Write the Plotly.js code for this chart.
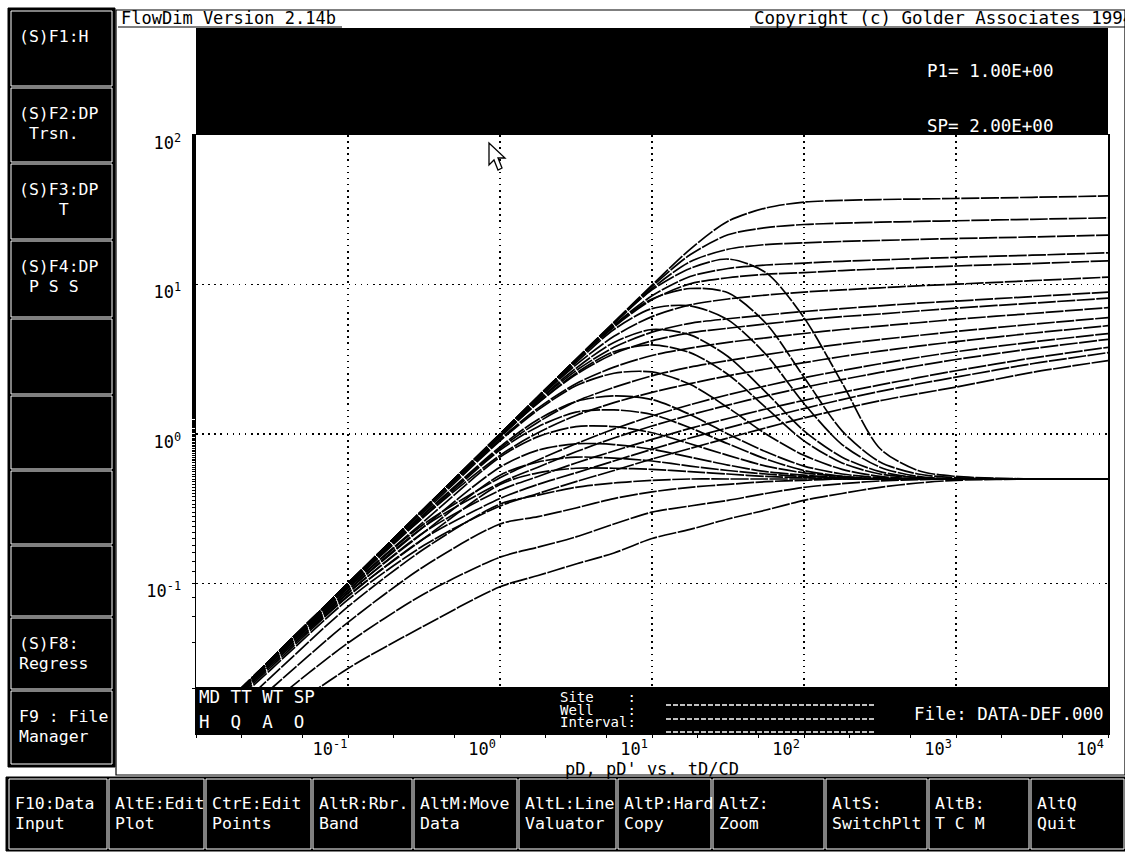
<!DOCTYPE html>
<html><head><meta charset="utf-8">
<script src="https://cdn.plot.ly/plotly-3.0.1.min.js"></script>
<style>html,body{margin:0;padding:0;background:#fff;overflow:hidden}#chart{width:1125px;height:852px}</style>
</head><body><div id="chart"></div>
<script>
// ---- data ----
const tdcd = [0.01, 0.0316, 0.1, 0.316, 1, 1.78, 3.16, 5.62, 10, 17.8, 31.6, 56.2, 100, 178, 316, 562, 1000, 3162, 10000];

// pD curves (upper family)
const pD_1  = [0.01, 0.0316, 0.1, 0.316, 1.0, 1.78, 3.16, 5.6, 9.9, 17.2, 26.5, 32.5, 35.6, 36.5, 37.0, 37.3, 37.6, 38.3, 39.1];
const pD_2  = [0.01, 0.0316, 0.1, 0.316, 1.0, 1.78, 3.15, 5.55, 9.7, 15.8, 21.5, 24.0, 25.2, 25.7, 26.1, 26.4, 26.7, 27.3, 27.9];
const pD_3  = [0.01, 0.0316, 0.1, 0.316, 1.0, 1.78, 3.14, 5.5, 9.4, 14.2, 17.2, 18.5, 19.0, 19.4, 19.7, 20.0, 20.3, 20.8, 21.4];
const pD_4  = [0.01, 0.0316, 0.1, 0.316, 0.99, 1.76, 3.12, 5.35, 8.4, 11.3, 12.8, 13.5, 13.9, 14.3, 14.6, 14.9, 15.2, 15.7, 16.3];
const pD_5  = [0.01, 0.0316, 0.1, 0.315, 0.99, 1.76, 3.1, 5.2, 7.9, 10.1, 11.1, 11.7, 12.0, 12.4, 12.7, 13.0, 13.3, 13.8, 14.4];
const pD_6  = [0.01, 0.0316, 0.1, 0.315, 0.99, 1.72, 2.9, 4.5, 6.1, 7.3, 8.0, 8.5, 8.9, 9.2, 9.5, 9.8, 10.05, 10.6, 11.2];
const pD_7  = [0.01, 0.0316, 0.1, 0.315, 0.97, 1.66, 2.65, 3.8, 4.8, 5.5, 5.9, 6.25, 6.6, 6.9, 7.2, 7.5, 7.75, 8.3, 8.9];
const pD_8  = [0.01, 0.0316, 0.1, 0.314, 0.96, 1.61, 2.5, 3.45, 4.2, 4.75, 5.1, 5.45, 5.8, 6.1, 6.35, 6.65, 6.95, 7.5, 8.1];
const pD_9  = [0.01, 0.0316, 0.1, 0.31, 0.92, 1.49, 2.17, 2.8, 3.35, 3.75, 4.1, 4.4, 4.7, 5.0, 5.27, 5.55, 5.85, 6.4, 7.0];
const pD_10 = [0.01, 0.0315, 0.098, 0.29, 0.8, 1.2, 1.65, 2.05, 2.45, 2.8, 3.1, 3.4, 3.7, 4.0, 4.28, 4.56, 4.85, 5.42, 6.0];
const pD_11 = [0.01, 0.031, 0.097, 0.28, 0.72, 1.02, 1.33, 1.62, 1.9, 2.17, 2.45, 2.72, 3.0, 3.3, 3.58, 3.87, 4.15, 4.72, 5.3];
const pD_12 = [0.01, 0.031, 0.093, 0.25, 0.51, 0.67, 0.86, 1.08, 1.32, 1.57, 1.83, 2.1, 2.38, 2.66, 2.95, 3.25, 3.55, 4.12, 4.7];
const pD_13 = [0.0098, 0.03, 0.09, 0.24, 0.47, 0.6, 0.76, 0.94, 1.13, 1.34, 1.56, 1.8, 2.05, 2.31, 2.58, 2.86, 3.15, 3.72, 4.3];
const pD_14 = [0.0096, 0.029, 0.086, 0.22, 0.42, 0.52, 0.64, 0.77, 0.92, 1.09, 1.27, 1.47, 1.68, 1.9, 2.13, 2.38, 2.65, 3.22, 3.8];
const pD_15 = [0.0094, 0.028, 0.082, 0.2, 0.37, 0.46, 0.55, 0.66, 0.79, 0.94, 1.1, 1.28, 1.48, 1.7, 1.93, 2.16, 2.4, 2.95, 3.5];
const pD_16 = [0.0092, 0.027, 0.078, 0.18, 0.33, 0.4, 0.48, 0.57, 0.68, 0.8, 0.94, 1.1, 1.28, 1.47, 1.67, 1.86, 2.06, 2.58, 3.1];

// derivative pD' curves
const dpD_1  = [0.01, 0.0316, 0.1, 0.316, 1.0, 1.78, 3.15, 5.5, 9.2, 12.8, 14.8, 12.0, 6.0, 2.2, 0.8, 0.57, 0.52, 0.5, 0.5];
const dpD_2  = [0.01, 0.0316, 0.1, 0.316, 1.0, 1.77, 3.1, 5.3, 8.0, 9.4, 8.8, 5.5, 2.4, 1.05, 0.65, 0.54, 0.51, 0.5, 0.5];
const dpD_3  = [0.01, 0.0316, 0.1, 0.315, 0.99, 1.75, 3.0, 5.0, 6.9, 7.2, 5.8, 3.4, 1.6, 0.85, 0.6, 0.52, 0.5, 0.5, 0.5];
const dpD_4  = [0.01, 0.0316, 0.1, 0.312, 0.97, 1.68, 2.75, 4.1, 5.0, 4.6, 3.3, 1.9, 1.05, 0.7, 0.56, 0.51, 0.5, 0.5, 0.5];
const dpD_5  = [0.01, 0.0316, 0.099, 0.31, 0.95, 1.62, 2.55, 3.55, 3.95, 3.5, 2.5, 1.5, 0.9, 0.64, 0.54, 0.51, 0.5, 0.5, 0.5];
const dpD_6  = [0.01, 0.0315, 0.098, 0.3, 0.9, 1.45, 2.1, 2.55, 2.6, 2.15, 1.5, 1.0, 0.72, 0.58, 0.52, 0.5, 0.5, 0.5, 0.5];
const dpD_7  = [0.01, 0.0314, 0.097, 0.29, 0.82, 1.25, 1.65, 1.8, 1.7, 1.35, 1.0, 0.76, 0.61, 0.54, 0.51, 0.5, 0.5, 0.5, 0.5];
const dpD_8  = [0.01, 0.0313, 0.096, 0.28, 0.78, 1.12, 1.4, 1.45, 1.35, 1.1, 0.86, 0.68, 0.57, 0.52, 0.5, 0.5, 0.5, 0.5, 0.5];
const dpD_9  = [0.0099, 0.031, 0.094, 0.26, 0.7, 0.96, 1.12, 1.12, 1.02, 0.86, 0.72, 0.61, 0.55, 0.52, 0.5, 0.5, 0.5, 0.5, 0.5];
const dpD_10 = [0.0098, 0.0305, 0.09, 0.24, 0.6, 0.78, 0.86, 0.85, 0.79, 0.7, 0.62, 0.56, 0.53, 0.51, 0.5, 0.5, 0.5, 0.5, 0.5];
const dpD_11 = [0.0097, 0.03, 0.087, 0.22, 0.53, 0.65, 0.7, 0.69, 0.66, 0.61, 0.57, 0.54, 0.52, 0.51, 0.5, 0.5, 0.5, 0.5, 0.5];
const dpD_12 = [0.0095, 0.029, 0.083, 0.2, 0.46, 0.55, 0.59, 0.59, 0.58, 0.56, 0.54, 0.52, 0.51, 0.5, 0.5, 0.5, 0.5, 0.5, 0.5];
const dpD_13 = [0.008, 0.024, 0.07, 0.17, 0.34, 0.39, 0.44, 0.47, 0.49, 0.5, 0.5, 0.5, 0.5, 0.5, 0.5, 0.5, 0.5, 0.5, 0.5];
const dpD_14 = [0.007, 0.02, 0.055, 0.13, 0.25, 0.28, 0.32, 0.37, 0.41, 0.44, 0.46, 0.48, 0.49, 0.5, 0.5, 0.5, 0.5, 0.5, 0.5];
const dpD_15 = [0.006, 0.016, 0.04, 0.085, 0.15, 0.175, 0.205, 0.25, 0.3, 0.33, 0.36, 0.4, 0.44, 0.465, 0.485, 0.495, 0.5, 0.5, 0.5];
const dpD_16 = [0.005, 0.012, 0.027, 0.052, 0.095, 0.113, 0.135, 0.16, 0.2, 0.23, 0.27, 0.31, 0.36, 0.4, 0.44, 0.47, 0.49, 0.5, 0.5];

const pDCurves  = [pD_1, pD_2, pD_3, pD_4, pD_5, pD_6, pD_7, pD_8, pD_9, pD_10, pD_11, pD_12, pD_13, pD_14, pD_15, pD_16];
const dpDCurves = [dpD_1, dpD_2, dpD_3, dpD_4, dpD_5, dpD_6, dpD_7, dpD_8, dpD_9, dpD_10, dpD_11, dpD_12, dpD_13, dpD_14, dpD_15, dpD_16];

// tick labels
const xTickVals = [0.1, 1, 10, 100, 1000, 10000];
const xTickText = ['10<sup>-1</sup>', '10<sup>0</sup>', '10<sup>1</sup>', '10<sup>2</sup>', '10<sup>3</sup>', '10<sup>4</sup>'];
const yTickVals = [0.1, 1, 10, 100];
const yTickText = ['10<sup>-1</sup>', '10<sup>0</sup>', '10<sup>1</sup>', '10<sup>2</sup>'];

// screen texts
const titleLeft  = 'FlowDim Version 2.14b';
const titleRight = 'Copyright (c) Golder Associates 1994';
const xTitle = "pD, pD' vs. tD/CD";
const sideKeys = [['(S)F1:H', ''], ['(S)F2:DP', ' Trsn.'], ['(S)F3:DP', '    T'], ['(S)F4:DP', ' P S S'], ['', ''], ['', ''], ['', ''], ['', ''], ['(S)F8:', 'Regress'], ['F9 : File', 'Manager']];
const bottomKeys = [['F10:Data', 'Input'], ['AltE:Edit', 'Plot'], ['CtrE:Edit', 'Points'], ['AltR:Rbr.', 'Band'], ['AltM:Move', 'Data'], ['AltL:Line', 'Valuator'], ['AltP:Hard', 'Copy'], ['AltZ:', 'Zoom'], ['AltS:', 'SwitchPlt'], ['AltB:', 'T C M'], ['AltQ', 'Quit']];
const paramText = ['P1= 1.00E+00', 'SP= 2.00E+00'];
const fileText = 'File: DATA-DEF.000';
const codeRow1 = 'MD TT WT SP';
const codeRow2 = 'H  Q  A  O';
const siteRows = ['Site    :', 'Well    :', 'Interval:'];

// ---- layout helpers (pixel -> paper) ----
const L = 196, R = 1108, T = 135, B = 733;
const W = R - L, H = B - T;
const X = p => (p - L) / W;
const Y = p => (B - p) / H;
const MONO = 'DejaVu Sans Mono, monospace';

const lineStyle = {color: '#000', width: 1.7, shape: 'spline', smoothing: 0.8, dash: '18px,1.5px'};
const traces = [];
pDCurves.forEach((c, i) => traces.push({x: tdcd, y: c, mode: 'lines', type: 'scatter', name: 'pD ' + (i + 1),
  line: lineStyle, hoverinfo: 'skip'}));
dpDCurves.forEach((c, i) => traces.push({x: tdcd, y: c, mode: 'lines', type: 'scatter', name: "pD' " + (i + 1),
  line: lineStyle, hoverinfo: 'skip'}));

const shapes = [];
const ann = [];
function rect(x0, y0, x1, y1, fill, lc, lw, layer) {
  shapes.push({type: 'rect', xref: 'paper', yref: 'paper', x0: X(x0), x1: X(x1), y0: Y(y0), y1: Y(y1),
    fillcolor: fill, line: {color: lc || fill, width: lw === undefined ? 0 : lw}, layer: layer || 'above'});
}
function hline(x0, x1, y, color, w, dash) {
  shapes.push({type: 'line', xref: 'paper', yref: 'paper', x0: X(x0), x1: X(x1), y0: Y(y), y1: Y(y),
    line: {color: color, width: w, dash: dash || 'solid'}, layer: 'above'});
}
function txt(x, y, s, color, size, anchor) {
  ann.push({xref: 'paper', yref: 'paper', x: X(x), y: Y(y), text: s, showarrow: false,
    xanchor: anchor || 'left', yanchor: 'middle', font: {family: MONO, size: size || 17, color: color}});
}

// window frame and title bar
rect(116, 10, 1125, 775, 'rgba(0,0,0,0)', '#000', 1.2, 'below');
txt(119, 18, titleLeft, '#000', 17);
txt(752, 18, titleRight, '#000', 17.5);
hline(118, 342, 27, '#000', 1.2);
hline(750, 1125, 27, '#000', 1.2);

// top and bottom black bands of the plot
rect(L, 28, R, 134, '#000');
rect(L, 687, R, 735, '#000');
txt(925, 71, paramText[0], '#fff', 17.5);
txt(925, 126, paramText[1], '#fff', 17.5);
txt(197, 697, codeRow1, '#fff', 17.5);
txt(197, 722, codeRow2, '#fff', 17.5);
siteRows.forEach((s, i) => txt(558, 697 + i * 12.5, s, '#fff', 14));
[705, 719, 732].forEach(y => hline(666, 875, y, '#fff', 1.5, '5px,2px'));
txt(912, 714, fileText, '#fff', 17.5);

// left function-key panel
const sideEdges = [10, 87, 163, 240, 318, 395, 470, 545, 617, 690, 765];
rect(8, 8, 115, 767, '#000', '#000', 1, 'above');
for (let i = 0; i < sideKeys.length; i++) {
  rect(11, sideEdges[i] + 1, 112, sideEdges[i + 1] - 1, '#000', '#fff', 1);
  const top = sideEdges[i];
  if (sideKeys[i][0]) txt(17, top + 26, sideKeys[i][0], '#fff', 16.5);
  if (sideKeys[i][1]) txt(17, top + 46, sideKeys[i][1], '#fff', 16.5);
}

// bottom function-key bar
const botEdges = [8, 108, 205, 312, 413, 518, 617, 712, 825, 928, 1030, 1125];
rect(6, 777, 1125, 851, '#000', '#000', 1, 'above');
for (let i = 0; i < bottomKeys.length; i++) {
  rect(botEdges[i] + 1, 779, botEdges[i + 1] - 1, 849, '#000', '#fff', 1);
  txt(botEdges[i] + 5, 803, bottomKeys[i][0], '#fff', 16.5);
  txt(botEdges[i] + 5, 823, bottomKeys[i][1], '#fff', 16.5);
}

// mouse pointer
const cur = [[489, 143], [489, 165], [494, 160], [498, 170], [502, 168], [498, 158], [505, 158]];
shapes.push({type: 'path', xref: 'paper', yref: 'paper',
  path: 'M' + cur.map(p => X(p[0]).toFixed(5) + ',' + Y(p[1]).toFixed(5)).join(' L') + ' Z',
  fillcolor: '#fff', line: {color: '#000', width: 1.3}, layer: 'above'});

const axisCommon = {
  type: 'log', showline: true, mirror: true, linecolor: '#000', linewidth: 1.5,
  showgrid: true, gridcolor: '#000', gridwidth: 1.6, griddash: '1.6px,4.5px', zeroline: false,
  ticks: '', tickmode: 'array', tickfont: {family: MONO, size: 17, color: '#000'},
  minor: {ticks: 'outside', ticklen: 3, tickcolor: '#000', tickwidth: 1, showgrid: false},
  fixedrange: true
};

const layout = {
  width: 1125, height: 852, paper_bgcolor: '#fff', plot_bgcolor: '#fff',
  margin: {l: L, r: 1125 - R, t: T, b: 852 - B}, showlegend: false,
  xaxis: Object.assign({}, axisCommon, {range: [-2, 4], tickvals: xTickVals, ticktext: xTickText,
    ticklabelshift: -18, ticklabelstandoff: 0,
    title: {text: xTitle, font: {family: MONO, size: 17, color: '#000'}, standoff: 0}}),
  yaxis: Object.assign({}, axisCommon, {range: [-2, 2], tickvals: yTickVals, ticktext: yTickText,
    ticklabelshift: 8, ticklabelstandoff: 10}),
  shapes: shapes, annotations: ann
};

Plotly.newPlot('chart', traces, layout, {staticPlot: true, displayModeBar: false});
</script></body></html>
